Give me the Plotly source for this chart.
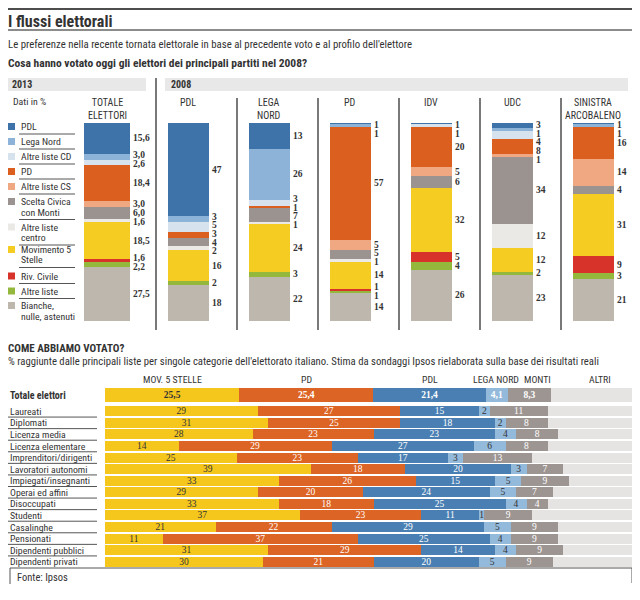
import plotly.graph_objects as go

# ---------------- DATA ----------------
# Top: "Cosa hanno votato oggi gli elettori dei principali partiti nel 2008?"
FLOW_COLUMNS = ["TOTALE<br>ELETTORI", "PDL", "LEGA<br>NORD", "PD", "IDV", "UDC", "SINISTRA<br>ARCOBALENO"]
CHOICES_2013 = ["PDL", "Lega Nord", "Altre liste CD", "PD", "Altre liste CS",
                "Scelta Civica<br>con Monti", "Altre liste<br>centro", "Movimento 5<br>Stelle",
                "Riv. Civile", "Altre liste", "Bianche,<br>nulle, astenuti"]
# share (%) of each 2008 electorate (column order above) that chose each 2013 option
FLOW_PDL = [15.6, 47, 13, 1, 1, 3, 1]
FLOW_LEGA = [3.0, 3, 26, 1, 0, 1, 1]
FLOW_ALTRE_CD = [2.6, 5, 3, 0, 1, 4, 0]
FLOW_PD = [18.4, 3, 1, 57, 20, 8, 16]
FLOW_ALTRE_CS = [3.0, 0, 0, 5, 5, 1, 14]
FLOW_MONTI = [6.0, 4, 7, 5, 6, 34, 4]
FLOW_CENTRO = [1.6, 2, 1, 1, 0, 12, 0]
FLOW_M5S = [18.5, 16, 24, 14, 32, 12, 31]
FLOW_RIV = [1.6, 0, 0, 1, 5, 0, 9]
FLOW_ALTRE = [2.2, 2, 3, 1, 4, 2, 3]
FLOW_BIANCHE = [27.5, 18, 22, 14, 26, 23, 21]

# Bottom: "Come abbiamo votato?"
PARTIES = ["MOV. 5 STELLE", "PD", "PDL", "LEGA NORD", "MONTI", "ALTRI"]
TOTAL_2013 = [25.5, 25.4, 21.4, 4.1, 8.3, 15.3]
GROUPS = ["Laureati", "Diplomati", "Licenza media", "Licenza elementare", "Imprenditori/dirigenti",
          "Lavoratori autonomi", "Impiegati/insegnanti", "Operai ed affini", "Disoccupati",
          "Studenti", "Casalinghe", "Pensionati", "Dipendenti pubblici", "Dipendenti privati"]
M5S_BY_GROUP = [29, 31, 28, 14, 25, 39, 33, 29, 33, 37, 21, 11, 31, 30]
PD_BY_GROUP = [27, 25, 23, 29, 23, 18, 26, 20, 18, 23, 22, 37, 29, 21]
PDL_BY_GROUP = [15, 18, 23, 27, 17, 20, 15, 24, 25, 11, 29, 25, 14, 20]
LEGA_BY_GROUP = [2, 2, 4, 6, 3, 3, 5, 5, 4, 1, 5, 4, 4, 5]
MONTI_BY_GROUP = [11, 8, 8, 8, 13, 7, 9, 7, 4, 9, 9, 9, 9, 9]
ALTRI_BY_GROUP = [16, 16, 14, 16, 19, 13, 12, 15, 16, 19, 14, 14, 13, 15]

# ---------------- STYLE ----------------
# the page body has an 8px margin: the figure is sized so that it fills the window exactly
OX, OY = 8, 8
FW, FH = 632, 584
SANS = "Roboto Condensed, Liberation Sans Narrow, DejaVu Sans Condensed, sans-serif"
SERIF = "Liberation Serif, DejaVu Serif, Georgia, serif"
TXT = "#333333"
LINE = "#555555"
TOP_COLORS = ["#3e73a9", "#8db4d8", "#d6e3ee", "#db6020", "#f0a882", "#9b938f",
              "#ebe9e6", "#f5cd22", "#d7332a", "#93b83c", "#bdb7ae"]
BOT_COLORS = ["#f5c71d", "#dc6424", "#4a7fb3", "#93b9db", "#9d9592", "#e6e4e2"]
BOT_TEXT = ["#333333", "white", "white", "#333333", "white", "#e6e4e2"]


def px(x):
    return max(x - OX, 0) / FW


def py(y):
    return 1 - max(y - OY, 0.5) / FH


flows = [FLOW_PDL, FLOW_LEGA, FLOW_ALTRE_CD, FLOW_PD, FLOW_ALTRE_CS, FLOW_MONTI,
         FLOW_CENTRO, FLOW_M5S, FLOW_RIV, FLOW_ALTRE, FLOW_BIANCHE]
ncol = len(FLOW_COLUMNS)
COL_X0, COL_STEP = 107.4, 81.0          # pixel center of first column, spacing
bar_w = [0.57] + [0.515] * (ncol - 1)

fig = go.Figure()

# ---- top stacked columns ----
for name, vals, col in zip(CHOICES_2013, flows, TOP_COLORS):
    fig.add_trace(go.Bar(x=FLOW_COLUMNS, y=vals, width=bar_w, name=name.replace("<br>", " "),
                         marker=dict(color=col, line=dict(width=0)),
                         xaxis="x", yaxis="y", hoverinfo="skip"))


def spread(targets, gap, lo, hi):
    clusters = []
    for t in targets:
        clusters.append([t])
        while len(clusters) > 1:
            a, b = clusters[-2], clusters[-1]
            sa = sum(a) / len(a) - gap * (len(a) - 1) / 2
            sb = sum(b) / len(b) - gap * (len(b) - 1) / 2
            if sb < sa + gap * len(a):
                clusters[-2:] = [a + b]
            else:
                break
    out = []
    for c in clusters:
        s = sum(c) / len(c) - gap * (len(c) - 1) / 2
        out += [s + gap * k for k in range(len(c))]
    for i in range(len(out)):
        out[i] = max(out[i], lo if i == 0 else out[i - 1] + gap)
    for i in range(len(out) - 1, -1, -1):
        out[i] = min(out[i], hi if i == len(out) - 1 else out[i + 1] - gap)
    return out


annotations = []
for ci in range(ncol):
    cum = 0
    targets, texts = [], []
    for vals in flows:
        v = vals[ci]
        if v > 0:
            targets.append(cum + v / 2)
            texts.append(f"{v:.1f}".replace(".", ",") if ci == 0 else f"{v:g}")
        cum += v
    ys = spread(targets, 4.4, 1.0, 99.0)
    for y, t in zip(ys, texts):
        annotations.append(dict(x=ci + bar_w[ci] / 2, y=y, xref="x", yref="y", text=f"<b>{t}</b>",
                                showarrow=False, xanchor="left", yanchor="middle", xshift=1,
                                font=dict(family=SERIF, size=9.5, color=TXT)))
    annotations.append(dict(x=ci, y=py(95), xref="x", yref="paper", text=FLOW_COLUMNS[ci],
                            showarrow=False, xanchor="center", yanchor="top",
                            font=dict(family=SANS, size=10, color=TXT)))

# ---- bottom horizontal stacked bars ----
group_series = [M5S_BY_GROUP, PD_BY_GROUP, PDL_BY_GROUP, LEGA_BY_GROUP, MONTI_BY_GROUP, ALTRI_BY_GROUP]
for k, (party, tot, ser) in enumerate(zip(PARTIES, TOTAL_2013, group_series)):
    tcol = "white" if k in (1, 2, 3, 4) else BOT_TEXT[k]
    fig.add_trace(go.Bar(y=["Totale elettori"], x=[tot], orientation="h", width=1.0,
                         text=[f"<b>{tot:.1f}</b>".replace(".", ",") if k < 5 else ""],
                         textposition="inside", insidetextanchor="middle", constraintext="none",
                         textangle=0,
                         textfont=dict(family=SERIF, size=9.5, color=tcol),
                         marker=dict(color=BOT_COLORS[k], line=dict(width=0)),
                         xaxis="x2", yaxis="y2", hoverinfo="skip", cliponaxis=False))
    fig.add_trace(go.Bar(y=GROUPS, x=ser, orientation="h", width=0.86,
                         text=[f"{v:g}" for v in ser] if k < 5 else None,
                         textposition="inside", insidetextanchor="middle", constraintext="none",
                         textangle=0,
                         textfont=dict(family=SERIF, size=9.5, color=BOT_TEXT[k]),
                         marker=dict(color=BOT_COLORS[k], line=dict(width=0)),
                         xaxis="x2", yaxis="y3", hoverinfo="skip", cliponaxis=False))

# column headers of bottom chart
HEADER_SHIFT = {"LEGA NORD": -1, "MONTI": 8, "ALTRI": 8}
cum = 0
for k, (party, tot) in enumerate(zip(PARTIES, TOTAL_2013)):
    annotations.append(dict(x=cum + tot / 2, y=py(379), xref="x2", yref="paper", text=party,
                            showarrow=False, xanchor="center", yanchor="middle",
                            xshift=HEADER_SHIFT.get(party, 0),
                            font=dict(family=SANS, size=9.8, color=TXT)))
    cum += tot

# row labels
for g in GROUPS:
    annotations.append(dict(x=px(8), y=g, xref="paper", yref="y3", text=g, showarrow=False,
                            xanchor="left", yanchor="middle",
                            font=dict(family=SANS, size=9.8, color=TXT)))
annotations.append(dict(x=px(8), y="Totale elettori", xref="paper", yref="y2",
                        text="<b>Totale elettori</b>", showarrow=False, xanchor="left",
                        yanchor="middle", font=dict(family=SANS, size=10, color=TXT)))


# ---- texts ----
def ptext(x, y, text, size=10, bold=False, anchor="left", color=TXT, family=SANS, yanchor="middle"):
    annotations.append(dict(x=px(x), y=py(y), xref="paper", yref="paper",
                            text=f"<b>{text}</b>" if bold else text, showarrow=False,
                            xanchor=anchor, yanchor=yanchor, xshift=-2 if x < OX else 0,
                            font=dict(family=family, size=size, color=color)))


ptext(7, 9.5, "I flussi elettorali", size=16, bold=True, yanchor="top")
ptext(7, 44, "Le preferenze nella recente tornata elettorale in base al precedente voto e al profilo dell'elettore", size=10.8)
ptext(7, 63, "Cosa hanno votato oggi gli elettori dei principali partiti nel 2008?", size=11.5, bold=True)
ptext(10, 84.5, "2013", size=10, bold=True)
ptext(169, 84.5, "2008", size=10, bold=True)
ptext(11, 101, "Dati in %", size=9.8)
ptext(7, 348, "COME ABBIAMO VOTATO?", size=11, bold=True)
ptext(7, 361, "% raggiunte dalle principali liste per singole categorie dell'elettorato italiano. "
              "Stima da sondaggi Ipsos rielaborata sulla base dei risultati reali", size=10.7)
ptext(15, 577, "Fonte: Ipsos", size=10.5)

# legend (custom)
LEG_Y = [126.5, 141.5, 156.5, 171.5, 186.5, 201.5, 227, 249.5, 276, 291, 305.5]
shapes = []
for name, col, y in zip(CHOICES_2013, TOP_COLORS, LEG_Y):
    shapes.append(dict(type="rect", xref="paper", yref="paper", x0=px(8), x1=px(15),
                       y0=py(y + 3.5), y1=py(y - 3.5), fillcolor=col, line=dict(width=0)))
    lines = name.split("<br>")
    for j, ln in enumerate(lines):
        ptext(19, y + j * 10.5, ln, size=9.8)
    ly = y + (len(lines) - 1) * 10.5 + 7.5
    if name != CHOICES_2013[-1]:
        shapes.append(dict(type="line", xref="paper", yref="paper", x0=px(19), x1=px(75),
                           y0=py(ly), y1=py(ly), line=dict(color=LINE, width=1)))


def pline(x0, y0, x1, y1, color=LINE, width=1):
    shapes.append(dict(type="line", xref="paper", yref="paper", x0=px(x0), x1=px(x1),
                       y0=py(y0), y1=py(y1), line=dict(color=color, width=width)))


pline(5, 9, 635, 9, "#4d4d4d", 2)
pline(5, 30, 635, 30, "#666666", 1.5)
shapes.append(dict(type="rect", xref="paper", yref="paper", x0=px(5), x1=px(146),
                   y0=py(91), y1=py(78), fillcolor="#e8e8e8", line=dict(width=0)))
shapes.append(dict(type="rect", xref="paper", yref="paper", x0=px(165), x1=px(628),
                   y0=py(91), y1=py(78), fillcolor="#e8e8e8", line=dict(width=0)))
# column separators (between 2008 groups)
for i in range(ncol - 1):
    shapes.append(dict(type="line", xref="x", yref="paper", x0=i + 0.6, x1=i + 0.6,
                       y0=py(330), y1=py(78 if i == 0 else 98),
                       line=dict(color="#4d4d4d", width=1.5)))
# row underlines
for i in range(len(GROUPS) - 1):
    shapes.append(dict(type="line", xref="paper", yref="y3", x0=px(8), x1=px(97),
                       y0=i + 0.5, y1=i + 0.5, line=dict(color=LINE, width=1)))
# bottom frame
pline(10, 568, 632, 568, "#555555", 1)
pline(10, 568, 10, 584, "#555555", 1)
pline(632, 568, 632, 583, "#555555", 1)

x_range = [(OX - COL_X0) / COL_STEP, (OX + FW - COL_X0) / COL_STEP]
fig.update_layout(
    width=FW, height=FH, margin=dict(l=0, r=0, t=0, b=0),
    paper_bgcolor="white", plot_bgcolor="rgba(0,0,0,0)",
    barmode="stack", showlegend=False,
    xaxis=dict(domain=[0, 1], range=x_range, type="category", visible=False, anchor="y"),
    yaxis=dict(domain=[py(321), py(123)], range=[100, 0], visible=False, anchor="x"),
    xaxis2=dict(domain=[px(105), px(632)], range=[0, 100], visible=False, anchor="y3"),
    yaxis2=dict(domain=[py(402), py(388)], type="category", range=[-0.5, 0.5],
                visible=False, anchor="x2"),
    yaxis3=dict(domain=[py(567.5), py(405.5)], type="category",
                range=[len(GROUPS) - 0.5, -0.5], visible=False, anchor="x2"),
    annotations=annotations, shapes=shapes,
)

fig.write_html("out.html")
